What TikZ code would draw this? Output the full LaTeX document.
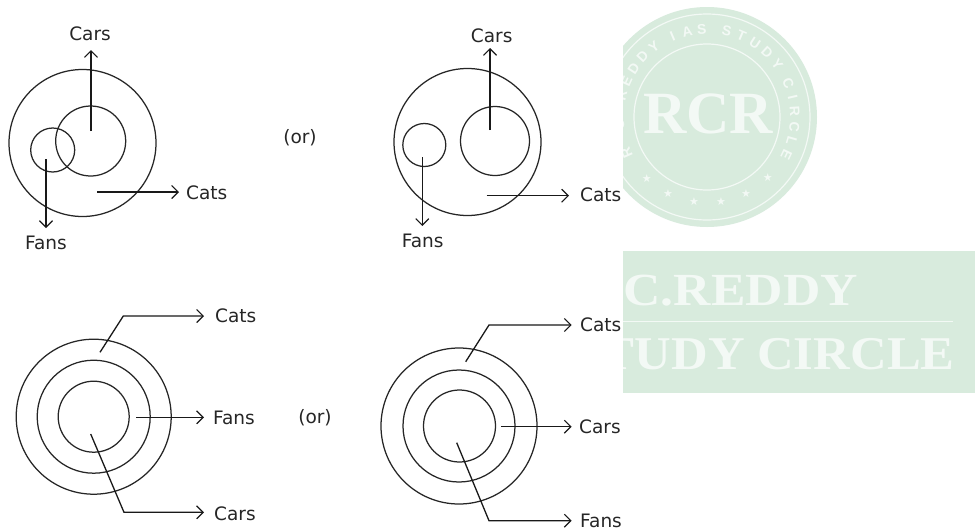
\documentclass[tikz,border=0pt]{standalone}
\usepackage{fontspec}
\setmainfont{DejaVu Sans}
\newfontfamily\wmserif{Liberation Serif}[BoldFont=* Bold]
\newfontfamily\wmsans{Liberation Sans}[BoldFont=* Bold]
\newfontfamily\wmsym{DejaVu Sans}
\usetikzlibrary{arrows.meta}
\definecolor{wmgreen}{HTML}{D8EBDD}
\definecolor{wmlight}{HTML}{F3F9F5}
\tikzset{
  ring/.style={draw=black!85,line width=1.25pt},
  lead/.style={draw=black!90,line width=1.3pt,-{Straight Barb[length=6.5pt,width=13pt,line width=1.2pt]}},
  lbl/.style={font=\fontsize{18.5}{20}\selectfont,text=black!85,inner sep=0pt},
  wmletter/.style={font=\wmsans\bfseries\fontsize{14}{14}\selectfont,text=wmlight,inner sep=0pt},
  wmstar/.style={font=\wmsym\fontsize{11}{11}\selectfont,text=wmlight,inner sep=0pt},
  wmtext/.style={text=wmlight,inner sep=0pt}
}
\begin{document}
\begin{tikzpicture}[x=1pt,y=-1pt]
\useasboundingbox (0,0) rectangle (975,531);
\fill[white] (0,0) rectangle (975,531);

% --- top-left panel
\node[ring,circle,minimum size=147pt,inner sep=0pt] (a1) at (82.5,143) {};
\node[ring,circle,minimum size=70pt,inner sep=0pt] (a2) at (90.7,141) {};
\node[ring,circle,minimum size=44pt,inner sep=0pt] (a3) at (52.7,150) {};
\node[lbl] (aCars) at (90,34) {Cars};
\node[lbl] (aFans) at (46,243) {Fans};
\node[lbl,anchor=west] (aCats) at (186,193) {Cats};
\node[lbl] (aor) at (300,138) {(or)};
\coordinate (a1s) at (91,131); \coordinate (a1e) at (91,50);
\coordinate (a2s) at (46,159); \coordinate (a2e) at (46,228);
\coordinate (a3s) at (97,192); \coordinate (a3e) at (179,192);
\draw[lead] (a1s) -- (a1e);
\draw[lead] (a2s) -- (a2e);
\draw[lead] (a3s) -- (a3e);

% --- top-right panel
\node[ring,circle,minimum size=147pt,inner sep=0pt] (b1) at (467.5,142) {};
\node[ring,circle,minimum size=69pt,inner sep=0pt] (b2) at (495,141) {};
\node[ring,circle,minimum size=43pt,inner sep=0pt] (b3) at (424.3,145) {};
\node[lbl] (bCars) at (491.7,35.5) {Cars};
\node[lbl] (bFans) at (422.7,241) {Fans};
\node[lbl,anchor=west] (bCats) at (580,195) {Cats};
\coordinate (b1s) at (490,130); \coordinate (b1e) at (490,48);
\coordinate (b2s) at (422.3,157); \coordinate (b2e) at (422.3,226);
\coordinate (b3s) at (486.7,195.7); \coordinate (b3e) at (569,195.7);
\draw[lead] (b1s) -- (b1e);
\draw[lead] (b2s) -- (b2e);
\draw[lead] (b3s) -- (b3e);

% --- bottom-left panel
\node[ring,circle,minimum size=155pt,inner sep=0pt] (c1) at (93.7,416.7) {};
\node[ring,circle,minimum size=113pt,inner sep=0pt] (c2) at (93.7,416.7) {};
\node[ring,circle,minimum size=71pt,inner sep=0pt] (c3) at (93.7,416.7) {};
\node[lbl,anchor=west] (cCats) at (215,316) {Cats};
\node[lbl,anchor=west] (cFans) at (213,418) {Fans};
\node[lbl,anchor=west] (cCars) at (214,514) {Cars};
\node[lbl] (cor) at (315,418) {(or)};
\coordinate (c1s) at (100,352.3); \coordinate (c1m) at (123.3,316); \coordinate (c1e) at (204,316);
\coordinate (c2s) at (136,417.3); \coordinate (c2e) at (204,417.3);
\coordinate (c3s) at (90.7,434); \coordinate (c3m) at (124,512.3); \coordinate (c3e) at (204,512.3);
\draw[lead] (c1s) -- (c1m) -- (c1e);
\draw[lead] (c2s) -- (c2e);
\draw[lead] (c3s) -- (c3m) -- (c3e);

% --- bottom-right panel
\node[ring,circle,minimum size=156pt,inner sep=0pt] (d1) at (459,426) {};
\node[ring,circle,minimum size=112pt,inner sep=0pt] (d2) at (459,426) {};
\node[ring,circle,minimum size=72pt,inner sep=0pt] (d3) at (459.5,426) {};
\node[lbl,anchor=west] (dCats) at (580,325) {Cats};
\node[lbl,anchor=west] (dCars) at (579,427) {Cars};
\node[lbl,anchor=west] (dFans) at (580,521) {Fans};
\coordinate (d1s) at (465.7,361.7); \coordinate (d1m) at (489,325); \coordinate (d1e) at (571.7,325);
\coordinate (d2s) at (501,426.7); \coordinate (d2e) at (571.7,426.7);
\coordinate (d3s) at (456.7,442.7); \coordinate (d3m) at (489,520.7); \coordinate (d3e) at (571.7,520.7);
\draw[lead] (d1s) -- (d1m) -- (d1e);
\draw[lead] (d2s) -- (d2e);
\draw[lead] (d3s) -- (d3m) -- (d3e);

% --- watermark: opaque panel beginning at x=623
\fill[white] (623,0) rectangle (975,531);
\begin{scope}
  \clip (623,0) rectangle (975,251);
  \begin{scope}[x=1pt,y=1pt,shift={(707pt,-117pt)}]
    \fill[wmgreen] (0,0) circle[radius=110];
    \draw[wmlight,line width=1.2pt] (0,0) circle[radius=103];
    \draw[wmlight,line width=1.2pt] (0,0) circle[radius=73];
    \foreach \ch/\ang in {R/204,./194.5,C/185,./175,R/166,E/156,D/146.5,D/137,Y/127,I/113,A/103,S/93.4,S/77,T/67,U/57,D/47,Y/37,C/22.5,I/13,R/3.5,C/-6.3,L/-16,E/-25.5}
      \node[wmletter,rotate=\ang-90] at (\ang:88) {\ch};
    \foreach \ang in {-45,-63,-80.6,-98.7,-117,-134.5}
      \node[wmstar] at (\ang:86) {★};
    \node[wmtext,font=\wmserif\bfseries\fontsize{60}{60}\selectfont] (rcr) at (1,3) {RCR};
  \end{scope}
\end{scope}
\begin{scope}
  \clip (623,251) rectangle (975,393);
  \fill[wmgreen] (623,251) rectangle (975,393);
  \node[wmtext,anchor=base east,font=\wmserif\bfseries\fontsize{46}{46}\selectfont] (wm1) at (858,305) {\scalebox{1.125}[1]{C.REDDY}};
  \node[wmtext,anchor=base east,font=\wmserif\bfseries\fontsize{47}{47}\selectfont] (wm2) at (955,369) {\scalebox{1.08}[1]{TUDY CIRCLE}};
  \draw[wmlight,line width=1pt] (623,321) -- (953,321);
\end{scope}
\end{tikzpicture}
\end{document}
